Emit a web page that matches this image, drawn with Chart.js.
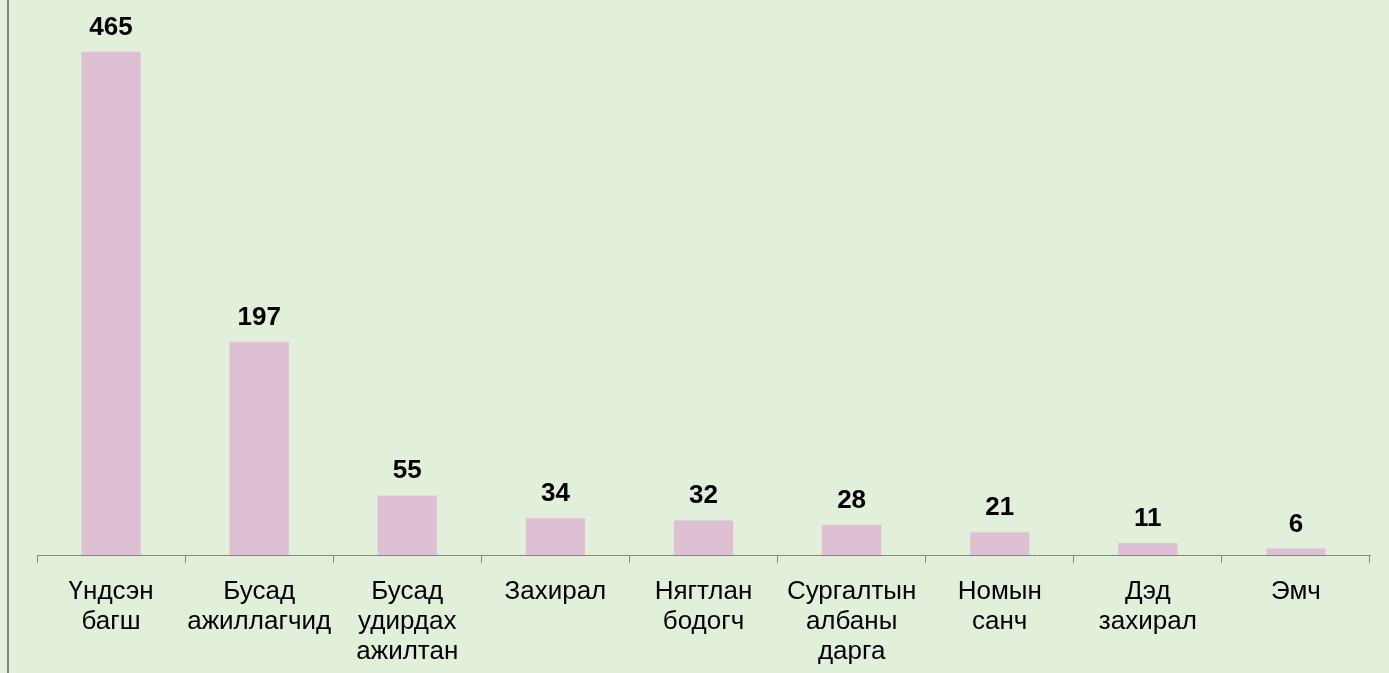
<!DOCTYPE html>
<html>
<head>
<meta charset="utf-8">
<script src="https://cdn.jsdelivr.net/npm/chart.js@4"></script>
<style>
  html, body { margin: 0; padding: 0; background: #e2efda; }
  #wrap { width: 1389px; height: 673px; position: relative; }
</style>
</head>
<body>
<div id="wrap"><canvas id="chart"></canvas></div>
<script>
// categories (multi-line labels) and values
const categories = [
  ["Үндсэн", "багш"],
  ["Бусад", "ажиллагчид"],
  ["Бусад", "удирдах", "ажилтан"],
  ["Захирал"],
  ["Нягтлан", "бодогч"],
  ["Сургалтын", "албаны", "дарга"],
  ["Номын", "санч"],
  ["Дэд", "захирал"],
  ["Эмч"]
];
const staffCounts = [465, 197, 55, 34, 32, 28, 21, 11, 6];

const barColor = "#dfbfd3";
const bgColor = "#e2efda";

// paint background + left frame line
const backgroundPlugin = {
  id: "bg",
  beforeDraw(chart) {
    const ctx = chart.ctx;
    ctx.save();
    ctx.fillStyle = bgColor;
    ctx.fillRect(0, 0, chart.width, chart.height);
    ctx.fillStyle = "#858585";
    ctx.fillRect(7, 0, 2, chart.height);
    ctx.restore();
  }
};

// value labels above bars
const valueLabels = {
  id: "valueLabels",
  afterDatasetsDraw(chart) {
    const ctx = chart.ctx;
    const meta = chart.getDatasetMeta(0);
    ctx.save();
    ctx.font = "bold 26px 'Liberation Sans', Arial, sans-serif";
    ctx.fillStyle = "#000";
    ctx.textAlign = "center";
    ctx.textBaseline = "alphabetic";
    meta.data.forEach((bar, i) => {
      ctx.fillText(String(staffCounts[i]), bar.x, bar.y - 17);
    });
    ctx.restore();
  }
};

new Chart(document.getElementById("chart"), {
  type: "bar",
  data: {
    labels: categories,
    datasets: [{
      data: staffCounts,
      backgroundColor: barColor,
      borderWidth: 0,
      categoryPercentage: 1.0,
      barPercentage: 0.4
    }]
  },
  options: {
    responsive: true,
    maintainAspectRatio: false,
    animation: false,
    layout: { padding: { left: 37, right: 19, top: 14, bottom: 0 } },
    plugins: {
      legend: { display: false },
      tooltip: { enabled: false }
    },
    scales: {
      x: {
        afterFit(scale) { scale.height = 118; },
        grid: {
          offset: true,
          drawOnChartArea: false,
          drawTicks: true,
          tickLength: 8,
          color: "#868686",
          lineWidth: 1
        },
        border: { display: true, color: "#868686", width: 1 },
        ticks: {
          color: "#000",
          font: { family: "'Liberation Sans', Arial, sans-serif", size: 26, lineHeight: 30 / 26 },
          maxRotation: 0,
          minRotation: 0,
          autoSkip: false,
          padding: 14
        }
      },
      y: {
        display: false,
        min: 0,
        max: 500
      }
    }
  },
  plugins: [backgroundPlugin, valueLabels]
});
</script>
</body>
</html>
